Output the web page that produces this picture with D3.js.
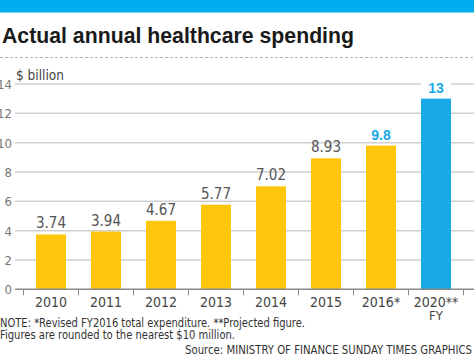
<!DOCTYPE html>
<html><head><meta charset="utf-8">
<script src="https://cdn.jsdelivr.net/npm/d3@7"></script>
<style>
html,body{margin:0;padding:0;background:#fff;}
svg{display:block;}
</style></head>
<body>
<svg id="c" width="474" height="357"></svg>
<script>
const categories = ["2010","2011","2012","2013","2014","2015","2016*","2020**"];
const subLabels = ["","","","","","","","FY"];
const values = [3.74, 3.94, 4.67, 5.77, 7.02, 8.93, 9.8, 13];
const valueLabels = ["3.74","3.94","4.67","5.77","7.02","8.93","9.8","13"];
const highlight = [false,false,false,false,false,false,true,true];
const yTicks = [0,2,4,6,8,10,12,14];

const YELLOW = "#FFC60B", BLUE = "#17A8E6", NARROW = "'Liberation Sans Narrow','DejaVu Sans Condensed',sans-serif";
const svg = d3.select("#c");

// top band
svg.append("rect").attr("x",0).attr("y",0).attr("width",474).attr("height",12.5).attr("fill","#00AEEF");
svg.append("text").attr("x",2).attr("y",43).attr("font-family","'Liberation Sans',Arial,sans-serif")
  .attr("font-weight","bold").attr("font-size",22).attr("fill","#1a1a1a")
  .attr("textLength",352).attr("lengthAdjust","spacingAndGlyphs")
  .text("Actual annual healthcare spending");
svg.append("line").attr("x1",0).attr("x2",474).attr("y1",57.5).attr("y2",57.5)
  .attr("stroke","#b5b5b5").attr("stroke-width",1).attr("stroke-dasharray","3,2");

const y = d3.scaleLinear().domain([0,14]).range([289.3,84]);
const x = d3.scaleBand().domain(categories).range([23.5,463.5]).paddingInner(0).paddingOuter(0);
const bw = 30;

// gridlines
svg.append("g").selectAll("line").data(yTicks.filter(d=>d>0)).join("line")
  .attr("x1",15).attr("x2",474).attr("y1",d=>y(d)).attr("y2",d=>y(d))
  .attr("stroke","#cfcfcf").attr("stroke-width",1.5);

// y tick labels
svg.append("g").selectAll("text").data(yTicks).join("text")
  .attr("x",12).attr("y",d=>y(d)+5).attr("text-anchor","end")
  .attr("font-family",NARROW).attr("font-size",13).attr("fill","#777").text(d=>d);

svg.append("text").attr("x",16).attr("y",80).attr("font-family",NARROW)
  .attr("font-size",13.5).attr("fill","#444").text("$ billion");

// bars
const bars = svg.append("g");
bars.selectAll("rect").data(values).join("rect")
  .attr("x",(d,i)=>x(categories[i])+x.bandwidth()/2-bw/2)
  .attr("y",d=>y(d)).attr("width",bw).attr("height",d=>y(0)-y(d))
  .attr("fill",(d,i)=>i===values.length-1?BLUE:YELLOW);

// white backing for top label
svg.append("rect").attr("x",x(categories[7])+x.bandwidth()/2-bw/2).attr("y",y(14)-2)
  .attr("width",bw).attr("height",4).attr("fill","#fff");

// value labels
svg.append("g").selectAll("text").data(values).join("text")
  .attr("x",(d,i)=>x(categories[i])+x.bandwidth()/2)
  .attr("y",d=>y(d)-6).attr("text-anchor","middle")
  .attr("font-family",(d,i)=>highlight[i]?"'Liberation Sans',Arial,sans-serif":NARROW)
  .attr("font-weight",(d,i)=>highlight[i]?"bold":"normal")
  .attr("font-size",(d,i)=>highlight[i]?14:15)
  .attr("fill",(d,i)=>highlight[i]?BLUE:"#555")
  .text((d,i)=>valueLabels[i]);

// x axis
svg.append("line").attr("x1",15).attr("x2",474).attr("y1",y(0)).attr("y2",y(0))
  .attr("stroke","#8a8a8a").attr("stroke-width",1.5);
const tickXs = categories.map(c=>x(c)).concat([x.range()[1]]);
svg.append("g").selectAll("line").data(tickXs).join("line")
  .attr("x1",d=>d).attr("x2",d=>d).attr("y1",y(0)).attr("y2",y(0)+6)
  .attr("stroke","#8a8a8a").attr("stroke-width",1);
svg.append("g").selectAll("text").data(categories).join("text")
  .attr("x",d=>x(d)+x.bandwidth()/2).attr("y",306.5).attr("text-anchor","middle")
  .attr("font-family",NARROW).attr("font-size",14).attr("fill","#444").text(d=>d);
svg.append("g").selectAll("text").data(subLabels).join("text")
  .attr("x",(d,i)=>x(categories[i])+x.bandwidth()/2).attr("y",319.5).attr("text-anchor","middle")
  .attr("font-family",NARROW).attr("font-size",13).attr("fill","#444").text(d=>d);

// notes
const note = svg.append("g").attr("font-family",NARROW).attr("font-size",12).attr("fill","#333");
note.append("text").attr("x",0).attr("y",327).attr("textLength",305).attr("lengthAdjust","spacingAndGlyphs")
  .text("NOTE: *Revised FY2016 total expenditure.  **Projected figure.");
note.append("text").attr("x",0).attr("y",339).attr("textLength",235).attr("lengthAdjust","spacingAndGlyphs")
  .text("Figures are rounded to the nearest $10 million.");
note.append("text").attr("x",472).attr("y",353.5).attr("text-anchor","end")
  .attr("textLength",287).attr("lengthAdjust","spacingAndGlyphs")
  .text("Source: MINISTRY OF FINANCE   SUNDAY TIMES GRAPHICS");
</script>
</body></html>
